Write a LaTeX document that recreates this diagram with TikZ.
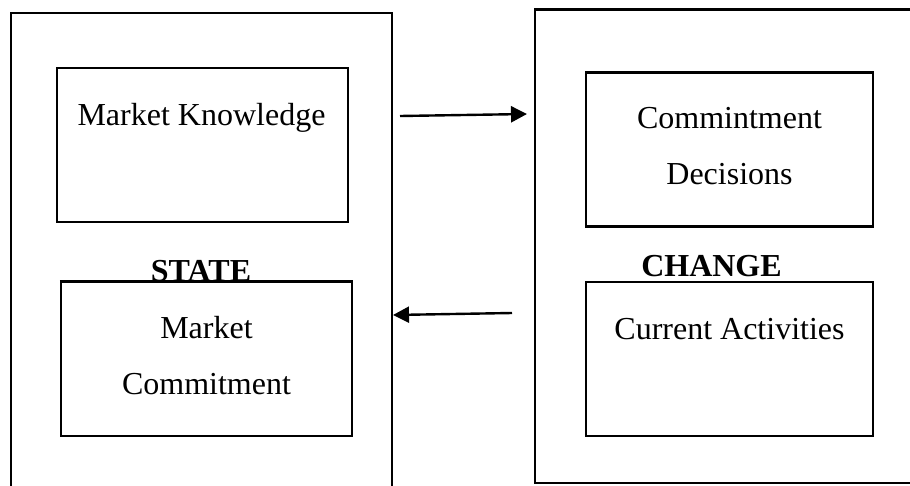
\documentclass[tikz,border=0pt]{standalone}
\usepackage{fontspec}
\setmainfont{Liberation Serif}
\usetikzlibrary{arrows.meta}
\begin{document}
\begin{tikzpicture}[x=1pt,y=-1pt,
  frame/.style={draw=black,line width=2.4pt},
  inbox/.style={draw=black,line width=2.4pt,inner sep=0pt},
  label/.style={anchor=base,inner sep=0pt,font=\fontsize{32}{38}\selectfont},
  heading/.style={anchor=base,inner sep=0pt,font=\fontsize{32}{38}\selectfont\bfseries},
  flow/.style={line width=2.4pt,-{Triangle[length=16pt,width=16pt]}}]
\useasboundingbox (0,0) rectangle (910,485);
\clip (0,0) rectangle (910,485);
% outer frames: STATE on the left, CHANGE on the right
\draw[frame] (11,520) -- (11,13) -- (392,13) -- (392,520);
\draw[frame] (950,9.5) -- (535,9.5) -- (535,483) -- (950,483);
% inner boxes
\node[inbox,minimum width=291pt,minimum height=154pt] (mk) at (202.5,145) {};
\node[inbox,minimum width=291pt,minimum height=154pt] (mc) at (206.5,359) {};
\node[inbox,minimum width=287pt,minimum height=154pt] (cd) at (729.5,149.5) {};
\node[inbox,minimum width=287pt,minimum height=154pt] (ca) at (729.5,359) {};
% box texts
\node[label] (tmk) at (201.5,125) {Market Knowledge};
\node[label] (tmc1) at (206.5,338) {Market};
\node[label] (tmc2) at (206.5,394) {Commitment};
\node[label] (tcd1) at (729.5,128) {Commintment};
\node[label] (tcd2) at (729.5,184) {Decisions};
\node[label] (tca) at (729.5,339) {Current Activities};
% headings
\node[heading,fill=white,inner sep=0pt] (state) at (201,281) {STATE};
\node[heading] (change) at (711.5,276) {CHANGE};
\draw[line width=2.4pt] (mc.north west) -- (mc.north east);
% connectors between the frames
\coordinate (a1s) at (400,116);
\coordinate (a1e) at (527,114);
\coordinate (a2s) at (512,313);
\coordinate (a2e) at (393,315);
\draw[flow] (a1s) -- (a1e);
\draw[flow] (a2s) -- (a2e);
\end{tikzpicture}
\end{document}
